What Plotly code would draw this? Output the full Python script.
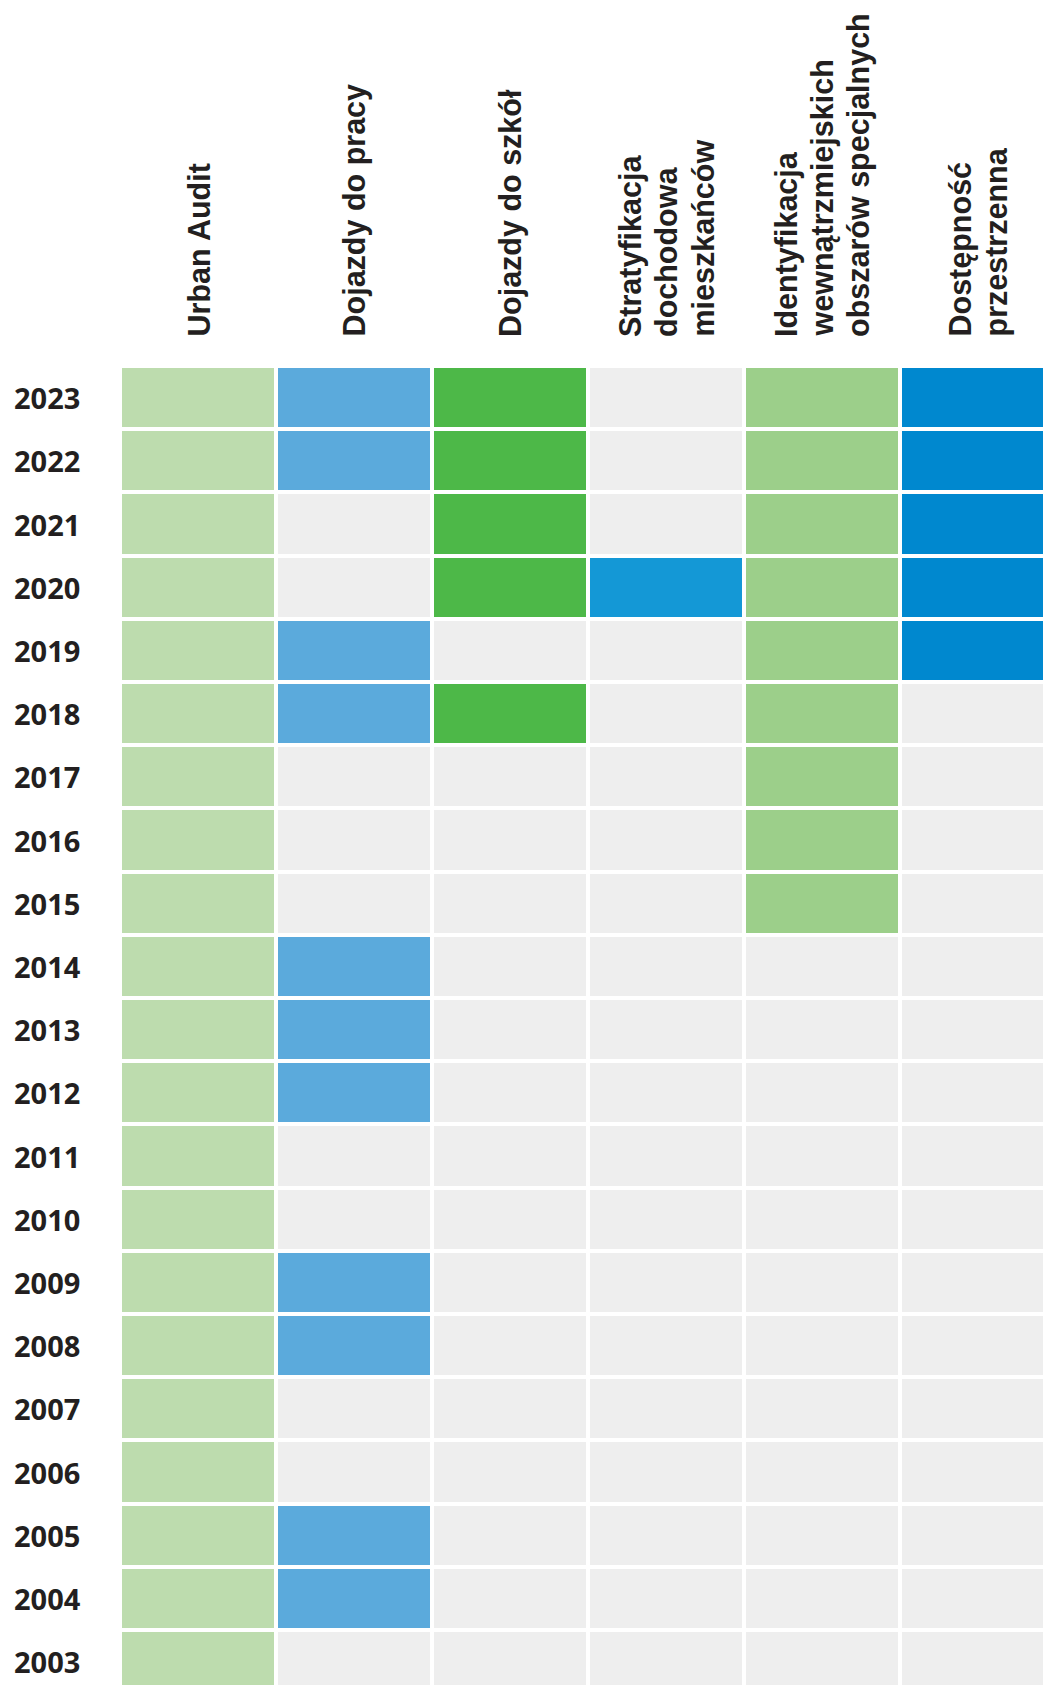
import plotly.graph_objects as go

years = [2023, 2022, 2021, 2020, 2019, 2018, 2017, 2016, 2015, 2014, 2013, 2012,
         2011, 2010, 2009, 2008, 2007, 2006, 2005, 2004, 2003]
categories = [["Urban Audit"], ["Dojazdy do pracy"], ["Dojazdy do szkół"],
              ["Stratyfikacja", "dochodowa", "mieszkańców"],
              ["Identyfikacja", "wewnątrzmiejskich", "obszarów specjalnych"],
              ["Dostępność", "przestrzenna"]]
colors = ["#BDDCAE", "#5BAADC", "#4DB848", "#1498D6", "#9CCF8A", "#0088CF"]
empty_color = "#EEEEEE"

urban_audit = list(range(2003, 2024))
dojazdy_praca = [2023, 2022, 2019, 2018, 2014, 2013, 2012, 2009, 2008, 2005, 2004]
dojazdy_szkol = [2023, 2022, 2021, 2020, 2018]
stratyfikacja = [2020]
identyfikacja = [2023, 2022, 2021, 2020, 2019, 2018, 2017, 2016, 2015]
dostepnosc = [2023, 2022, 2021, 2020, 2019]

series = [urban_audit, dojazdy_praca, dojazdy_szkol, stratyfikacja, identyfikacja, dostepnosc]

# code matrix: 0 = empty, k+1 = category k present
z = []
for y in years:
    row = []
    for k, s in enumerate(series):
        row.append(k + 1 if y in s else 0)
    z.append(row)

palette = [empty_color] + colors
n = len(palette)
colorscale = []
for i, c in enumerate(palette):
    colorscale.append([i / n, c])
    colorscale.append([(i + 1) / n, c])

W, H = 1043, 1685
ML, MT = 120, 366
col_px = 156.0
row_px = 63.2
line_px = 36.0
plot_w = W - ML
plot_h = H - MT

fig = go.Figure(go.Heatmap(
    z=z,
    x=list(range(len(categories))),
    y=list(range(len(years))),
    zmin=-0.5, zmax=n - 0.5,
    colorscale=colorscale,
    showscale=False,
    xgap=4, ygap=4,
    hoverinfo="skip",
))

annotations = []
for i, y in enumerate(years):
    annotations.append(dict(
        x=(47 - ML) / plot_w, xref="paper", y=i, yref="y",
        text=str(y), showarrow=False, xanchor="center", yanchor="middle",
        font=dict(family="Noto Sans", size=29, color="#231F20", weight="bold"),
    ))
for k, lines in enumerate(categories):
    m = len(lines)
    for j, line in enumerate(lines):
        off = (j - (m - 1) / 2) * line_px / col_px
        annotations.append(dict(
            x=k + off, xref="x", y=1 + (MT - 339) / plot_h, yref="paper",
            text="<b>" + line + "</b>", showarrow=False, textangle=-90,
            xanchor="center", yanchor="bottom",
            font=dict(family="Liberation Sans", size=30.5, color="#231F20"),
        ))

fig.update_layout(
    width=W, height=H, autosize=False,
    margin=dict(l=ML, r=0, t=MT, b=0, pad=0),
    paper_bgcolor="white", plot_bgcolor="white",
    xaxis=dict(range=[-0.5, -0.5 + plot_w / col_px], visible=False, fixedrange=True),
    yaxis=dict(range=[-0.5 + plot_h / row_px, -0.5], visible=False, fixedrange=True),
    annotations=annotations,
    showlegend=False,
)

fig.write_html(
    "out.html",
    config={"displayModeBar": False},
    post_script="document.body.style.margin='0';document.body.style.overflow='hidden';",
)
